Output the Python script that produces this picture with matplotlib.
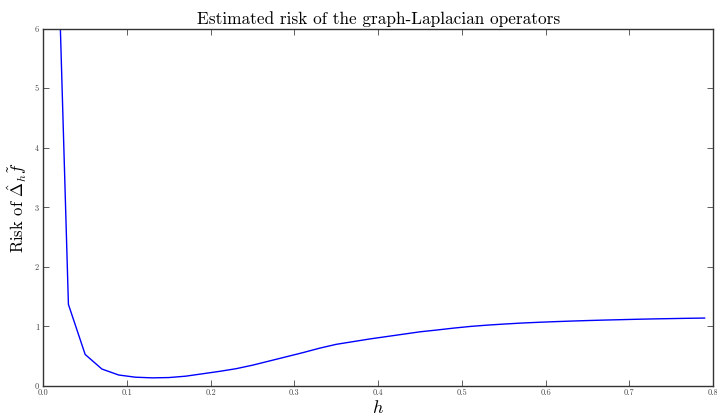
import matplotlib
matplotlib.use("Agg")
import matplotlib.pyplot as plt

h_values = [0.01, 0.03, 0.05, 0.07, 0.09, 0.11, 0.13, 0.15, 0.17, 0.19,
            0.21, 0.23, 0.25, 0.27, 0.29, 0.31, 0.33, 0.35, 0.37, 0.39,
            0.41, 0.43, 0.45, 0.47, 0.49, 0.51, 0.53, 0.55, 0.57, 0.59,
            0.61, 0.63, 0.65, 0.67, 0.69, 0.71, 0.73, 0.75, 0.77, 0.79]
risk_values = [11.0, 1.37, 0.53, 0.285, 0.185, 0.148, 0.137, 0.142, 0.165, 0.205,
               0.245, 0.29, 0.35, 0.42, 0.49, 0.56, 0.635, 0.70, 0.745, 0.79,
               0.83, 0.87, 0.91, 0.94, 0.972, 1.00, 1.022, 1.04, 1.056, 1.069,
               1.08, 1.09, 1.099, 1.107, 1.114, 1.121, 1.127, 1.132, 1.137, 1.141]
x_ticks = [0.0, 0.1, 0.2, 0.3, 0.4, 0.5, 0.6, 0.7, 0.8]
y_ticks = [0, 1, 2, 3, 4, 5, 6]

plt.rcParams['font.family'] = ['cmr10', 'DejaVu Serif']
plt.rcParams['mathtext.fontset'] = 'cm'
plt.rcParams['axes.formatter.use_mathtext'] = True
plt.rcParams['axes.unicode_minus'] = False

fig = plt.figure(figsize=(7.17, 4.17), dpi=100)
ax = fig.add_axes([0.0604, 0.0743, 0.934, 0.857])
ax.plot(h_values, risk_values, color='b', linewidth=1.0)
ax.set_xlim(0.0, 0.8)
ax.set_ylim(0, 6)
ax.set_xticks(x_ticks)
ax.set_yticks(y_ticks)
ax.set_xticklabels([f"{t:.1f}" for t in x_ticks])
ax.set_yticklabels([str(t) for t in y_ticks])
ax.tick_params(direction='in', top=True, right=True, labelsize=6, length=4,
               width=0.6, labelcolor='#444444', color='#444444', pad=3)
ax.tick_params(axis='x', pad=2)
for s in ax.spines.values():
    s.set_linewidth(1.0)
    s.set_color('#333333')
ax.set_title("Estimated risk of the graph-Laplacian operators", fontsize=12.4, pad=3)
ax.set_xlabel("$h$", fontsize=13)
ax.xaxis.label.set_va('bottom')
ax.xaxis.set_label_coords(0.5, -0.084)
ax.set_ylabel(r"Risk of $\hat{\Delta}_h\tilde{f}$", fontsize=12, labelpad=4)
fig.savefig("out.png", dpi=100)
